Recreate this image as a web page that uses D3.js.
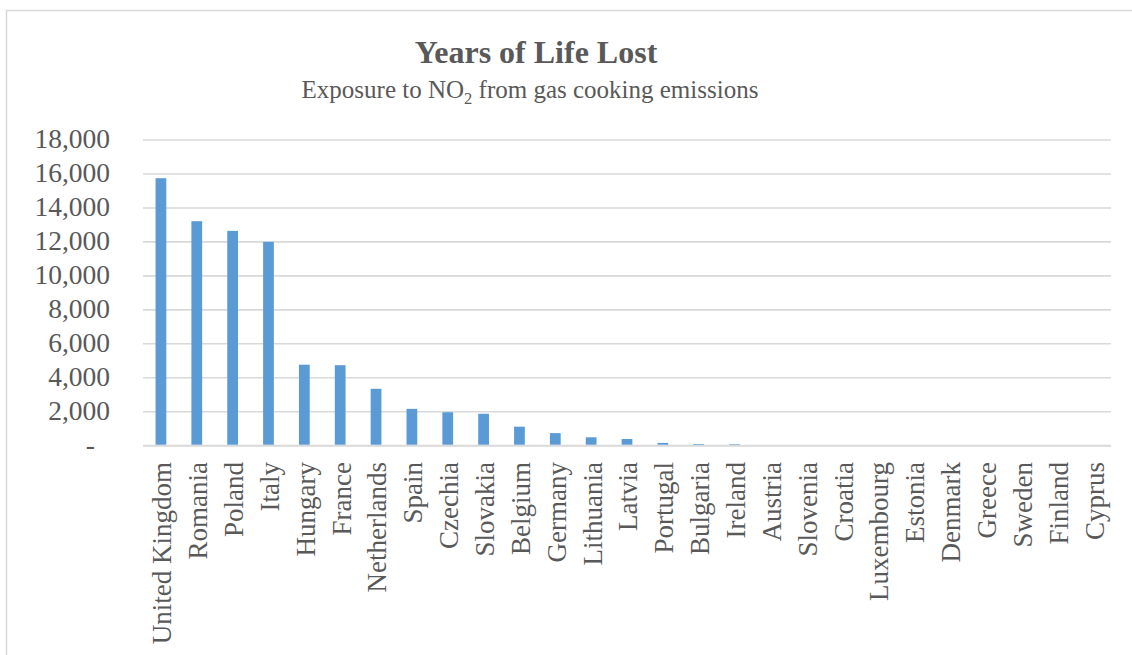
<!DOCTYPE html>
<html>
<head>
<meta charset="utf-8">
<script src="https://cdn.jsdelivr.net/npm/d3@7"></script>
<style>
  html, body { margin: 0; padding: 0; background: #fff; }
  svg { display: block; }
  text { font-family: "Liberation Serif", "Times New Roman", serif; fill: #595959; }
</style>
</head>
<body>
<svg id="chart" width="1132" height="655"></svg>
<script>
// Years of life lost per country, NO2 exposure from gas cooking
const countries = [
  "United Kingdom", "Romania", "Poland", "Italy", "Hungary", "France",
  "Netherlands", "Spain", "Czechia", "Slovakia", "Belgium", "Germany",
  "Lithuania", "Latvia", "Portugal", "Bulgaria", "Ireland", "Austria",
  "Slovenia", "Croatia", "Luxembourg", "Estonia", "Denmark", "Greece",
  "Sweden", "Finland", "Cyprus"
];
const yearsLost = [
  15750, 13220, 12650, 12000, 4770, 4740,
  3350, 2170, 1970, 1880, 1120, 740,
  495, 395, 165, 100, 95, 40,
  8, 5, 3, 3, 2, 1,
  1, 1, 0
];
const yTicks = [0, 2000, 4000, 6000, 8000, 10000, 12000, 14000, 16000, 18000];

const title = "Years of Life Lost";

const svg = d3.select("#chart");
const plot = { left: 143, right: 1111, top: 140, bottom: 445.7 };

// outer chart frame (only top and left edges fall inside the page)
svg.append("rect")
  .attr("x", 6.5).attr("y", 10.5)
  .attr("width", 1200).attr("height", 800)
  .attr("fill", "none")
  .attr("stroke", "#d9d9d9")
  .attr("stroke-width", 1.5);

const x = d3.scaleBand()
  .domain(countries)
  .range([plot.left, plot.right])
  .paddingInner(0.7)
  .paddingOuter(0.35);

const y = d3.scaleLinear()
  .domain([0, 18000])
  .range([plot.bottom, plot.top]);

// horizontal gridlines
svg.append("g")
  .selectAll("line")
  .data(yTicks)
  .join("line")
  .attr("x1", plot.left).attr("x2", plot.right)
  .attr("y1", d => y(d)).attr("y2", d => y(d))
  .attr("stroke", "#d9d9d9")
  .attr("stroke-width", d => d === 0 ? 2 : 1.6);

// y-axis tick labels (accounting style: zero shown as a dash)
const fmt = d3.format(",");
svg.append("g")
  .selectAll("text")
  .data(yTicks)
  .join("text")
  .attr("x", d => d === 0 ? 95 : 110)
  .attr("y", d => y(d))
  .attr("dy", "0.3em")
  .attr("text-anchor", "end")
  .style("font-size", "27.5px")
  .text(d => d === 0 ? "-" : fmt(d));

// bars
svg.append("g")
  .selectAll("rect")
  .data(countries.map((c, i) => ({ c, v: yearsLost[i] })))
  .join("rect")
  .attr("x", d => x(d.c))
  .attr("width", x.bandwidth())
  .attr("y", d => y(d.v))
  .attr("height", d => Math.max(0, y(0) - y(d.v) - 1))
  .attr("fill", "#5b9bd5");

// rotated category labels
svg.append("g")
  .selectAll("text")
  .data(countries)
  .join("text")
  .attr("transform", d => `translate(${x(d) + x.bandwidth() / 2 + 1},462) rotate(-90)`)
  .attr("dy", "0.35em")
  .attr("text-anchor", "end")
  .style("font-size", "27px")
  .text(d => d);

// title and subtitle
svg.append("text")
  .attr("x", 536).attr("y", 63)
  .attr("text-anchor", "middle")
  .style("font-size", "32px")
  .style("font-weight", "bold")
  .text(title);

const sub = svg.append("text")
  .attr("x", 530).attr("y", 98)
  .attr("text-anchor", "middle")
  .style("font-size", "25px");
sub.append("tspan").text("Exposure to NO");
sub.append("tspan").attr("dy", 6).style("font-size", "16.5px").text("2");
sub.append("tspan").attr("dy", -6).text(" from gas cooking emissions");
</script>
</body>
</html>
